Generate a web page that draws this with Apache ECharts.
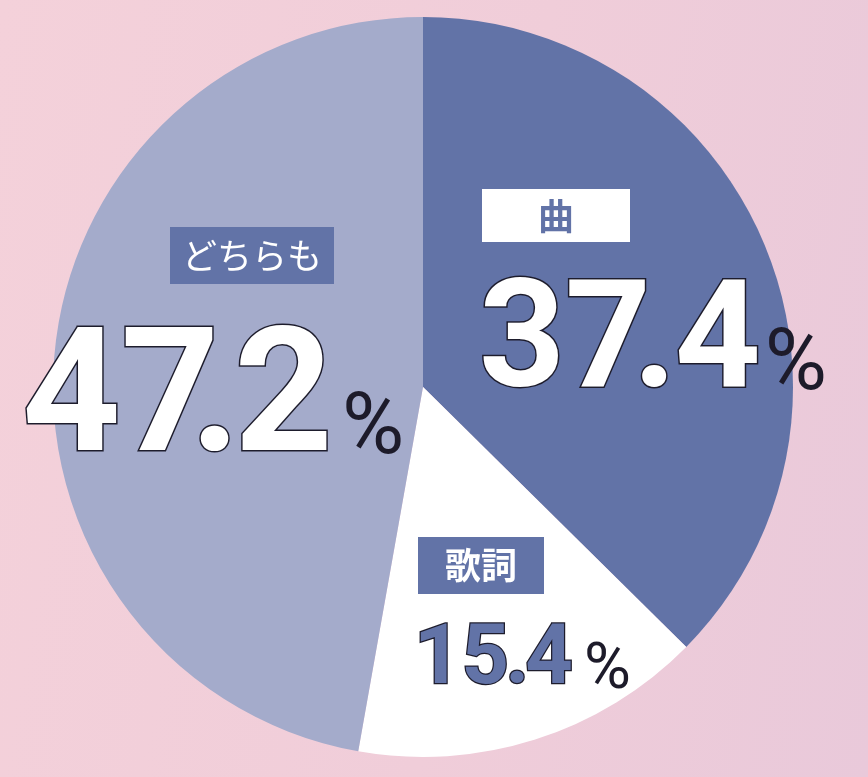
<!DOCTYPE html>
<html><head><meta charset="utf-8">
<script src="https://cdn.jsdelivr.net/npm/echarts@6/dist/echarts.min.js"></script>
<style>
html,body{margin:0;padding:0;}
#c{width:868px;height:777px;background:linear-gradient(100deg,#f4d1da 0%,#f0cdd9 55%,#e9c9da 100%);}
</style>
</head><body><div id="c"></div>
<script>
const categories = ['曲', '歌詞', 'どちらも'];
const values = [37.4, 15.4, 47.2];
const sliceColors = ['#6273a7', '#ffffff', '#a4abcb'];

const labelStyles = [
  { x: 479, y: 189, spacer: 3, boxBg: '#ffffff', boxColor: '#6273a7', boxSize: 36, boxWeight: 'bold', boxPad: [9, 56, 8, 56],
    numSize: 150, numColor: '#ffffff', numBorder: 3, numLH: 181, intTrim: 18, dotTrim: 2,
    pctSize: 85, pctPadB: 13, gap: 4 },
  { x: 414, y: 537, spacer: 4, boxBg: '#6273a7', boxColor: '#ffffff', boxSize: 36, boxWeight: 'bold', boxPad: [10, 27, 11, 27],
    numSize: 83, numColor: '#6273a7', numBorder: 2.5, numLH: 110, intTrim: 4, dotTrim: 4,
    pctSize: 64, pctPadB: 0, gap: 11 },
  { x: 22, y: 227, spacer: 148, boxBg: '#6273a7', boxColor: '#ffffff', boxSize: 35, boxWeight: 'normal', boxPad: [11, 12, 11, 12],
    numSize: 172, numColor: '#ffffff', numBorder: 3, numLH: 209, intTrim: 29, dotTrim: 6,
    pctSize: 85, pctPadB: 19, gap: 9 }
];

const numFont = 'Roboto, "Liberation Sans", sans-serif';
const jpFont = '"Noto Sans CJK JP", sans-serif';

const mctx = document.createElement('canvas').getContext('2d');
function textW(t, fs) { mctx.font = 'bold ' + fs + 'px ' + numFont; return mctx.measureText(t).width; }

const data = categories.map((name, i) => {
  const s = labelStyles[i];
  const parts = String(values[i]).split('.');
  const numBase = { fontSize: s.numSize, fontWeight: 'bold', fontFamily: numFont, color: s.numColor,
    textBorderColor: '#1d1c2c', textBorderWidth: s.numBorder, lineHeight: s.numLH, verticalAlign: 'bottom' };
  return {
    name: name,
    value: values[i],
    itemStyle: { color: sliceColors[i] },
    label: {
      rich: {
        sp: { width: s.spacer, fontSize: 10 },
        box: { backgroundColor: s.boxBg, color: s.boxColor, fontSize: s.boxSize, fontWeight: s.boxWeight,
               fontFamily: jpFont, padding: s.boxPad },
        int: Object.assign({}, numBase, { width: textW(parts[0], s.numSize) - s.intTrim }),
        dot: Object.assign({}, numBase, { width: textW('.', s.numSize) - s.dotTrim }),
        dec: Object.assign({}, numBase),
        pct: { fontSize: s.pctSize, fontWeight: 'normal', fontFamily: numFont, color: '#1d1b2a',
               verticalAlign: 'bottom', padding: [0, 0, s.pctPadB, s.gap] }
      }
    }
  };
});

const chart = echarts.init(document.getElementById('c'), null, { renderer: 'canvas' });
chart.setOption({
  animation: false,
  series: [{
    type: 'pie',
    center: [423, 387],
    radius: 370,
    startAngle: 90,
    clockwise: true,
    silent: true,
    itemStyle: { borderWidth: 0 },
    labelLine: { show: false },
    label: {
      show: true,
      position: 'inside',
      formatter: function (p) {
        const parts = String(p.value).split('.');
        return '{sp| }{box|' + p.name + '}\n{int|' + parts[0] + '}{dot|.}{dec|' + parts[1] + '}{pct|%}';
      }
    },
    labelLayout: function (params) {
      const s = labelStyles[params.dataIndex];
      return { x: s.x, y: s.y, align: 'left', verticalAlign: 'top' };
    },
    data: data
  }]
});
</script>
</body></html>
